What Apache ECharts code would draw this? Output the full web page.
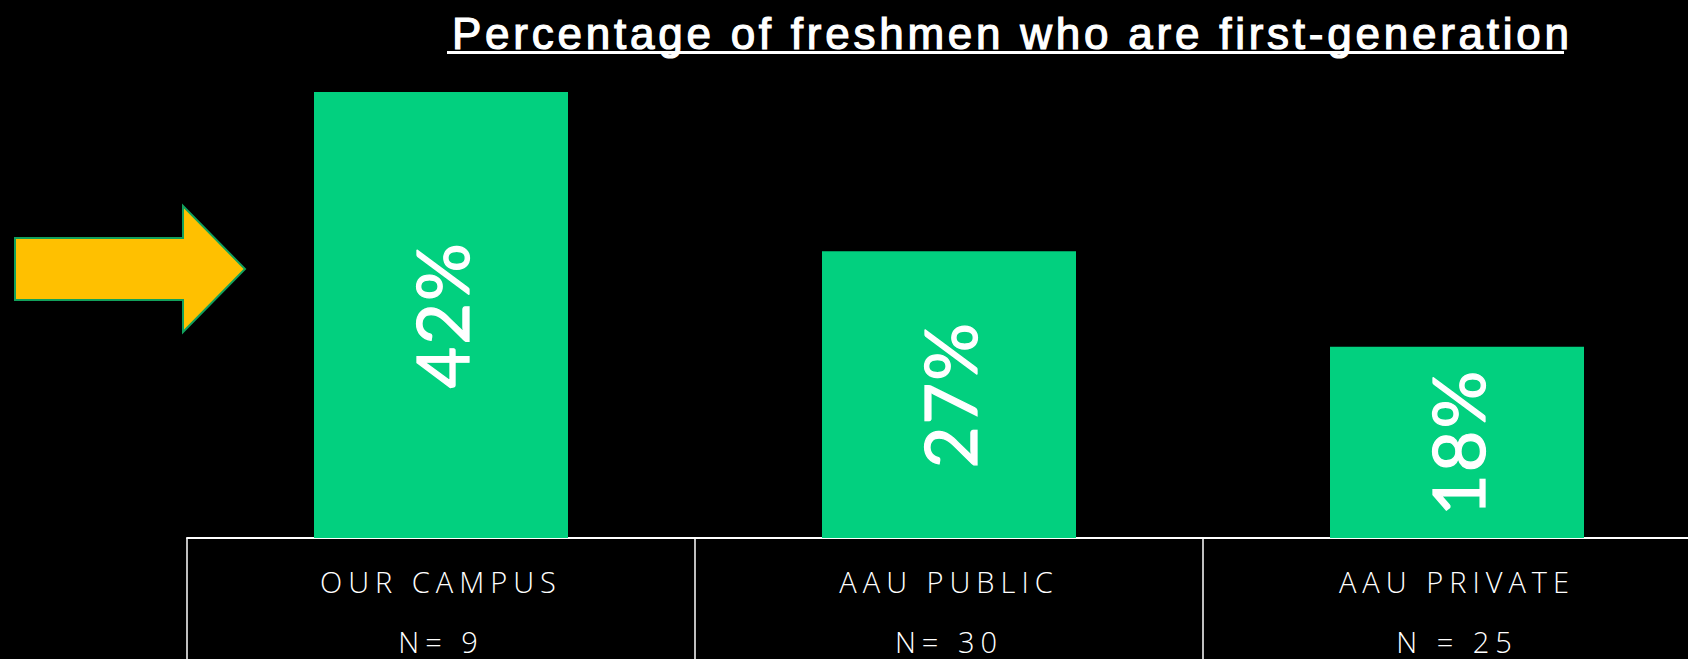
<!DOCTYPE html>
<html>
<head>
<meta charset="utf-8">
<script src="https://cdn.jsdelivr.net/npm/echarts@6/dist/echarts.min.js"></script>
<style>
html,body{margin:0;padding:0;background:#000;}
#chart{width:1688px;height:659px;}
</style>
</head>
<body>
<div id="chart"></div>
<script>
const titleText = 'Percentage of freshmen who are first-generation';
const categories = ['OUR CAMPUS', 'AAU PUBLIC', 'AAU PRIVATE'];
const sampleSizes = ['N= 9', 'N= 30', 'N = 25'];
const values = [42, 27, 18];

const TITLE_LEFT = 447, TITLE_WIDTH = 1117;

const chart = echarts.init(document.getElementById('chart'), null, {renderer: 'svg'});
chart.setOption({
  backgroundColor: '#000',
  animation: false,
  title: {
    text: titleText,
    left: TITLE_LEFT,
    top: 6,
    textStyle: {color: '#fff', fontSize: 44, fontWeight: 'normal', fontFamily: 'Liberation Sans, Arial, sans-serif',
                textBorderColor: '#fff', textBorderWidth: 1.2}
  },
  grid: {left: 187, width: 1524, top: 7, bottom: 121, outerBoundsMode: 'none', containLabel: false},
  xAxis: {
    type: 'category',
    data: categories,
    axisLine: {lineStyle: {color: '#fff', width: 2}},
    axisTick: {show: true, alignWithLabel: false, length: 125, lineStyle: {color: '#fff', width: 1.5}},
    axisLabel: {
      color: '#fff',
      fontSize: 29,
      lineHeight: 30,
      margin: 28,
      fontWeight: 300,
      fontFamily: 'Open Sans, sans-serif',
      formatter: (v, i) => v + '\n\n' + sampleSizes[i]
    }
  },
  yAxis: {type: 'value', min: 0, max: 50, show: false, splitLine: {show: false}},
  series: [{
    type: 'bar',
    data: values,
    barWidth: '50%',
    itemStyle: {color: '#02D07F'},
    label: {
      show: true,
      position: 'inside',
      rotate: 90,
      formatter: '{c}%',
      color: '#fff',
      fontSize: 72,
      fontFamily: 'Lato, Open Sans, sans-serif',
      textBorderColor: '#fff',
      textBorderWidth: 1.2
    }
  }],
  graphic: [
    {type: 'rect', shape: {x: TITLE_LEFT, y: 51, width: TITLE_WIDTH, height: 3}, style: {fill: '#fff'}},
    {type: 'polygon', shape: {points: [[15,238],[183,238],[183,206],[245,269],[183,332],[183,300],[15,300]]},
     style: {fill: '#FFC000', stroke: '#12A05C', lineWidth: 2}}
  ]
});

// letter spacing (not supported by ECharts text styles) applied to the SVG text nodes
function applySpacing() {
  const nodes = chart.getDom().querySelectorAll('text');
  nodes.forEach(n => {
    const t = (n.textContent || '').trim();
    if (!t) return;
    if (t === titleText) {
      n.style.letterSpacing = '0px';
      const natural = n.getComputedTextLength();
      const s = Math.max(0, (TITLE_WIDTH - natural) / (t.length - 1));
      n.style.letterSpacing = s.toFixed(2) + 'px';
    }
    else if (categories.indexOf(t) >= 0 || sampleSizes.indexOf(t) >= 0) n.style.letterSpacing = '6px';
    else if (/%$/.test(t)) n.style.letterSpacing = '2px';
  });
}
applySpacing();
chart.on('finished', applySpacing);
setTimeout(applySpacing, 50);
</script>
</body>
</html>
